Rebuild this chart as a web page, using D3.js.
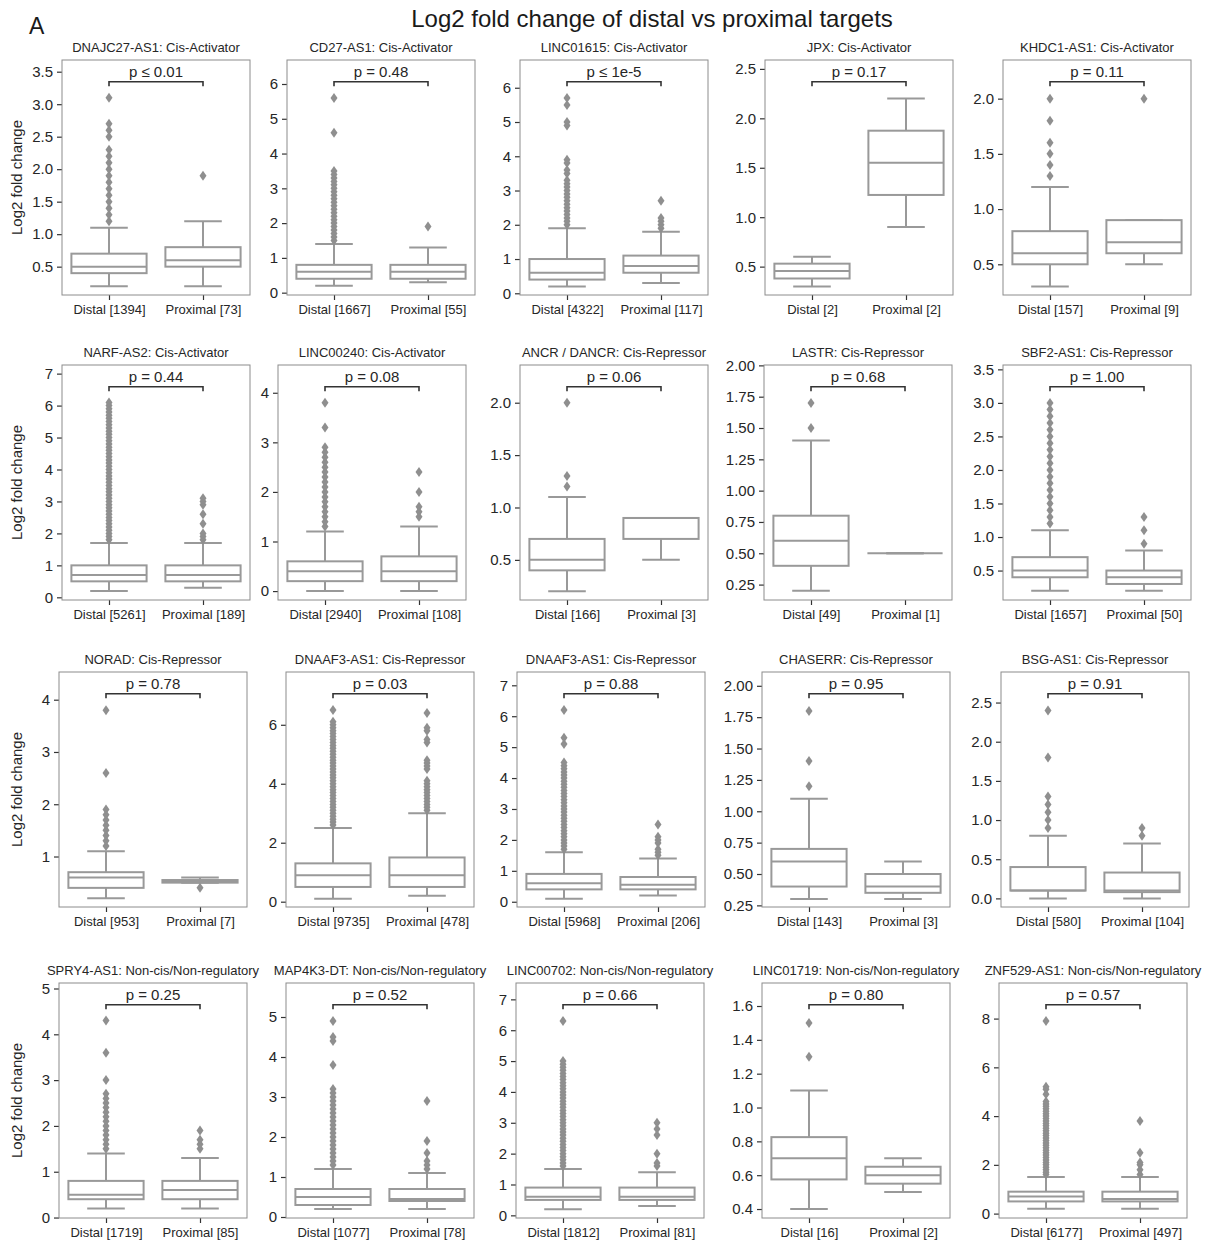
<!DOCTYPE html>
<html>
<head>
<meta charset="utf-8">
<script src="https://cdn.jsdelivr.net/npm/d3@7"></script>
<style>
  body { margin: 0; background: #fff; }
  svg text { font-family: "Liberation Sans", Arial, Helvetica, sans-serif; }
</style>
</head>
<body>
<div id="chart"></div>
<script>
'use strict';

const width = 1209;
const height = 1246;

// panel titles, sample sizes and p-values
const titles = [
  "DNAJC27-AS1: Cis-Activator", "CD27-AS1: Cis-Activator", "LINC01615: Cis-Activator", "JPX: Cis-Activator", "KHDC1-AS1: Cis-Activator",
  "NARF-AS2: Cis-Activator", "LINC00240: Cis-Activator", "ANCR / DANCR: Cis-Repressor", "LASTR: Cis-Repressor", "SBF2-AS1: Cis-Repressor",
  "NORAD: Cis-Repressor", "DNAAF3-AS1: Cis-Repressor", "DNAAF3-AS1: Cis-Repressor", "CHASERR: Cis-Repressor", "BSG-AS1: Cis-Repressor",
  "SPRY4-AS1: Non-cis/Non-regulatory", "MAP4K3-DT: Non-cis/Non-regulatory", "LINC00702: Non-cis/Non-regulatory", "LINC01719: Non-cis/Non-regulatory", "ZNF529-AS1: Non-cis/Non-regulatory"
];
const distalN = [1394, 1667, 4322, 2, 157, 5261, 2940, 166, 49, 1657, 953, 9735, 5968, 143, 580, 1719, 1077, 1812, 16, 6177];
const proximalN = [73, 55, 117, 2, 9, 189, 108, 3, 1, 50, 7, 478, 206, 3, 104, 85, 78, 81, 2, 497];
const pLabels = [
  "p \u2264 0.01", "p = 0.48", "p \u2264 1e-5", "p = 0.17", "p = 0.11",
  "p = 0.44", "p = 0.08", "p = 0.06", "p = 0.68", "p = 1.00",
  "p = 0.78", "p = 0.03", "p = 0.88", "p = 0.95", "p = 0.91",
  "p = 0.25", "p = 0.52", "p = 0.66", "p = 0.80", "p = 0.57"
];

// y axis limits and tick labels
const yDomains = [
  [0.064, 3.68], [-0.067, 6.69], [-0.05, 6.81], [0.213, 2.59], [0.222, 2.35],
  [-0.084, 7.27], [-0.18, 4.56], [0.117, 2.36], [0.127, 2.003], [0.061, 3.565],
  [0.034, 4.53], [-0.18, 7.79], [-0.17, 7.43], [0.237, 2.11], [-0.11, 2.89],
  [-0.01, 5.12], [-0.025, 5.85], [-0.086, 7.53], [0.347, 1.736], [-0.18, 9.46]
];
const yTickLabels = [
  ["0.5", "1.0", "1.5", "2.0", "2.5", "3.0", "3.5"],
  ["0", "1", "2", "3", "4", "5", "6"],
  ["0", "1", "2", "3", "4", "5", "6"],
  ["0.5", "1.0", "1.5", "2.0", "2.5"],
  ["0.5", "1.0", "1.5", "2.0"],
  ["0", "1", "2", "3", "4", "5", "6", "7"],
  ["0", "1", "2", "3", "4"],
  ["0.5", "1.0", "1.5", "2.0"],
  ["0.25", "0.50", "0.75", "1.00", "1.25", "1.50", "1.75", "2.00"],
  ["0.5", "1.0", "1.5", "2.0", "2.5", "3.0", "3.5"],
  ["1", "2", "3", "4"],
  ["0", "2", "4", "6"],
  ["0", "1", "2", "3", "4", "5", "6", "7"],
  ["0.25", "0.50", "0.75", "1.00", "1.25", "1.50", "1.75", "2.00"],
  ["0.0", "0.5", "1.0", "1.5", "2.0", "2.5"],
  ["0", "1", "2", "3", "4", "5"],
  ["0", "1", "2", "3", "4", "5"],
  ["0", "1", "2", "3", "4", "5", "6", "7"],
  ["0.4", "0.6", "0.8", "1.0", "1.2", "1.4", "1.6"],
  ["0", "2", "4", "6", "8"]
];

// box stats: [lower whisker, q1, median, q3, upper whisker]
const distalStats = [
  [0.2, 0.4, 0.5, 0.7, 1.1], [0.2, 0.4, 0.6, 0.8, 1.4], [0.2, 0.4, 0.6, 1.0, 1.9], [0.3, 0.38, 0.455, 0.53, 0.6], [0.3, 0.5, 0.6, 0.8, 1.2],
  [0.2, 0.5, 0.7, 1.0, 1.7], [0.0, 0.2, 0.4, 0.6, 1.2], [0.2, 0.4, 0.5, 0.7, 1.1], [0.2, 0.4, 0.6, 0.8, 1.4], [0.2, 0.4, 0.5, 0.7, 1.1],
  [0.2, 0.4, 0.6, 0.7, 1.1], [0.1, 0.5, 0.9, 1.3, 2.5], [0.1, 0.4, 0.6, 0.9, 1.6], [0.3, 0.4, 0.6, 0.7, 1.1], [0.0, 0.1, 0.1, 0.4, 0.8],
  [0.2, 0.4, 0.5, 0.8, 1.4], [0.2, 0.3, 0.5, 0.7, 1.2], [0.2, 0.5, 0.6, 0.9, 1.5], [0.4, 0.575, 0.7, 0.825, 1.1], [0.2, 0.5, 0.7, 0.9, 1.5]
];
const proximalStats = [
  [0.2, 0.5, 0.6, 0.8, 1.2], [0.3, 0.4, 0.6, 0.8, 1.3], [0.3, 0.6, 0.8, 1.1, 1.8], [0.9, 1.225, 1.55, 1.875, 2.2], [0.5, 0.6, 0.7, 0.9, 0.9],
  [0.3, 0.5, 0.7, 1.0, 1.7], [0.0, 0.2, 0.4, 0.7, 1.3], [0.5, 0.7, 0.9, 0.9, 0.9], [0.5, 0.5, 0.5, 0.5, 0.5], [0.2, 0.3, 0.4, 0.5, 0.8],
  [0.5, 0.5, 0.52, 0.55, 0.6], [0.2, 0.5, 0.9, 1.5, 3.0], [0.2, 0.4, 0.55, 0.8, 1.4], [0.3, 0.35, 0.4, 0.5, 0.6], [0.0, 0.08, 0.1, 0.33, 0.7],
  [0.2, 0.4, 0.6, 0.8, 1.3], [0.2, 0.4, 0.45, 0.7, 1.1], [0.3, 0.5, 0.6, 0.9, 1.4], [0.5, 0.55, 0.6, 0.65, 0.7], [0.2, 0.5, 0.6, 0.9, 1.5]
];

// outliers
const distalOutliers = [
  [1.2, 1.3, 1.4, 1.5, 1.6, 1.7, 1.8, 1.9, 2.0, 2.1, 2.2, 2.3, 2.5, 2.6, 2.7, 3.1],
  [1.5, 1.6, 1.7, 1.8, 1.9, 2.0, 2.1, 2.2, 2.3, 2.4, 2.5, 2.6, 2.7, 2.8, 2.9, 3.0, 3.1, 3.2, 3.3, 3.4, 3.5, 4.6, 5.6],
  [2.0, 2.1, 2.2, 2.3, 2.4, 2.5, 2.6, 2.7, 2.8, 2.9, 3.0, 3.1, 3.2, 3.3, 3.5, 3.6, 3.8, 3.9, 4.9, 5.0, 5.5, 5.7],
  [],
  [1.3, 1.4, 1.5, 1.6, 1.8, 2.0],
  [1.8, 1.9, 2.0, 2.1, 2.2, 2.3, 2.4, 2.5, 2.6, 2.7, 2.8, 2.9, 3.0, 3.1, 3.2, 3.3, 3.4, 3.5, 3.6, 3.7, 3.8, 3.9, 4.0, 4.1, 4.2, 4.3,
   4.4, 4.5, 4.6, 4.7, 4.8, 4.9, 5.0, 5.1, 5.2, 5.3, 5.4, 5.5, 5.6, 5.7, 5.8, 5.9, 6.0, 6.1],
  [1.3, 1.4, 1.5, 1.6, 1.7, 1.8, 1.9, 2.0, 2.1, 2.2, 2.3, 2.4, 2.5, 2.6, 2.7, 2.8, 2.9, 3.3, 3.8],
  [1.2, 1.3, 2.0],
  [1.5, 1.7],
  [1.2, 1.3, 1.4, 1.5, 1.6, 1.7, 1.8, 1.9, 2.0, 2.1, 2.2, 2.3, 2.4, 2.5, 2.6, 2.7, 2.8, 2.9, 3.0],
  [1.2, 1.3, 1.4, 1.5, 1.6, 1.7, 1.8, 1.9, 2.6, 3.8],
  [2.6, 2.7, 2.8, 2.9, 3.0, 3.1, 3.2, 3.3, 3.4, 3.5, 3.6, 3.7, 3.8, 3.9, 4.0, 4.1, 4.2, 4.3, 4.4, 4.5, 4.6, 4.7, 4.8, 4.9,
   5.0, 5.1, 5.2, 5.3, 5.4, 5.5, 5.6, 5.7, 5.8, 5.9, 6.0, 6.1, 6.5],
  [1.7, 1.8, 1.9, 2.0, 2.1, 2.2, 2.3, 2.4, 2.5, 2.6, 2.7, 2.8, 2.9, 3.0, 3.1, 3.2, 3.3, 3.4, 3.5, 3.6, 3.7, 3.8, 3.9, 4.0,
   4.1, 4.2, 4.3, 4.4, 4.5, 5.1, 5.3, 6.2],
  [1.2, 1.4, 1.8],
  [0.9, 1.0, 1.1, 1.2, 1.3, 1.8, 2.4],
  [1.5, 1.6, 1.7, 1.8, 1.9, 2.0, 2.1, 2.2, 2.3, 2.4, 2.5, 2.6, 2.7, 3.0, 3.6, 4.3],
  [1.3, 1.4, 1.5, 1.6, 1.7, 1.8, 1.9, 2.0, 2.1, 2.2, 2.3, 2.4, 2.5, 2.6, 2.7, 2.8, 2.9, 3.0, 3.1, 3.2, 3.8, 4.4, 4.5, 4.9],
  [1.6, 1.7, 1.8, 1.9, 2.0, 2.1, 2.2, 2.3, 2.4, 2.5, 2.6, 2.7, 2.8, 2.9, 3.0, 3.1, 3.2, 3.3, 3.4, 3.5, 3.6, 3.7, 3.8,
   3.9, 4.0, 4.1, 4.2, 4.3, 4.4, 4.5, 4.6, 4.7, 4.8, 4.9, 5.0, 6.3],
  [1.3, 1.5],
  [1.6, 1.7, 1.8, 1.9, 2.0, 2.1, 2.2, 2.3, 2.4, 2.5, 2.6, 2.7, 2.8, 2.9, 3.0, 3.1, 3.2, 3.3, 3.4, 3.5, 3.6, 3.7, 3.8,
   3.9, 4.0, 4.1, 4.2, 4.3, 4.4, 4.5, 4.6, 4.9, 5.1, 5.2, 7.9]
];
const proximalOutliers = [
  [1.9], [1.9], [1.9, 2.0, 2.1, 2.2, 2.7], [], [2.0],
  [1.8, 1.9, 2.0, 2.3, 2.6, 2.9, 3.0, 3.1], [1.5, 1.6, 1.7, 2.0, 2.4], [], [], [0.9, 1.1, 1.3],
  [0.4], [3.1, 3.2, 3.3, 3.4, 3.5, 3.6, 3.7, 3.8, 3.9, 4.0, 4.1, 4.5, 4.6, 4.7, 4.8, 5.4, 5.5, 5.8, 5.9, 6.4],
  [1.5, 1.6, 1.7, 1.9, 2.0, 2.1, 2.5], [], [0.8, 0.9],
  [1.5, 1.6, 1.7, 1.9], [1.2, 1.3, 1.4, 1.6, 1.9, 2.9], [1.6, 1.7, 2.0, 2.6, 2.8, 3.0], [], [1.6, 1.8, 2.0, 2.1, 2.5, 3.8]
];

// layout
const rowTop = [60, 365, 672, 983];
const colLeft = [
  [62, 287, 520, 765, 1003],
  [62, 278, 520, 764, 1003],
  [59, 286, 517, 762, 1001],
  [59, 286, 516, 762, 999]
];
const pw = 188;
const ph = 235;

const boxColor = "#999999";
const textColor = "#262626";

const svg = d3.select("#chart").append("svg")
  .attr("width", width)
  .attr("height", height);

svg.append("text")
  .attr("x", 652).attr("y", 27)
  .attr("text-anchor", "middle")
  .style("font-size", "24px")
  .attr("fill", "#1a1a1a")
  .text("Log2 fold change of distal vs proximal targets");

svg.append("text")
  .attr("x", 29).attr("y", 34)
  .style("font-size", "23px")
  .attr("fill", "#1a1a1a")
  .text("A");

const diamond = "M0,-5L3.5,0L0,5L-3.5,0Z";

titles.forEach((title, i) => {
  const r = Math.floor(i / 5), c = i % 5;
  const x0 = colLeft[r][c], y0 = rowTop[r];
  const g = svg.append("g").attr("transform", `translate(${x0},${y0})`);

  const x = d3.scalePoint().domain([0, 1]).range([0, pw]).padding(0.5);
  const y = d3.scaleLinear().domain(yDomains[i]).range([ph, 0]);
  const bw = (pw / 2) * 0.8;

  // y axis
  const labels = yTickLabels[i];
  const yAxis = g.append("g")
    .call(d3.axisLeft(y)
      .tickValues(labels.map(Number))
      .tickFormat((d, k) => labels[k])
      .tickSize(5).tickPadding(4));
  yAxis.select(".domain").remove();
  yAxis.selectAll(".tick line").attr("stroke", "#333").attr("stroke-width", 1.2);
  yAxis.selectAll(".tick text").attr("fill", textColor).style("font-size", "15px")
    .style("font-family", "'Liberation Sans', Arial, sans-serif");

  // x axis
  const xNames = [`Distal [${distalN[i]}]`, `Proximal [${proximalN[i]}]`];
  const xAxis = g.append("g")
    .attr("transform", `translate(0,${ph})`)
    .call(d3.axisBottom(x).tickFormat(d => xNames[d]).tickSize(5).tickPadding(5));
  xAxis.select(".domain").remove();
  xAxis.selectAll(".tick line").attr("stroke", "#333").attr("stroke-width", 1.2);
  xAxis.selectAll(".tick text").attr("fill", textColor).style("font-size", "13px")
    .style("font-family", "'Liberation Sans', Arial, sans-serif");

  // frame
  g.append("rect")
    .attr("width", pw).attr("height", ph)
    .attr("fill", "none")
    .attr("stroke", "#8c8c8c")
    .attr("stroke-width", 1);

  // boxes
  [[distalStats[i], distalOutliers[i]], [proximalStats[i], proximalOutliers[i]]].forEach(([s, outl], k) => {
    const cx = x(k);
    const bg = g.append("g")
      .attr("stroke", boxColor)
      .attr("stroke-width", 2)
      .attr("fill", "none");
    // whiskers
    bg.append("line").attr("x1", cx).attr("x2", cx).attr("y1", y(s[0])).attr("y2", y(s[1]));
    bg.append("line").attr("x1", cx).attr("x2", cx).attr("y1", y(s[3])).attr("y2", y(s[4]));
    // caps
    bg.append("line").attr("x1", cx - bw / 4).attr("x2", cx + bw / 4).attr("y1", y(s[0])).attr("y2", y(s[0]));
    bg.append("line").attr("x1", cx - bw / 4).attr("x2", cx + bw / 4).attr("y1", y(s[4])).attr("y2", y(s[4]));
    // box
    bg.append("rect")
      .attr("x", cx - bw / 2).attr("width", bw)
      .attr("y", y(s[3])).attr("height", y(s[1]) - y(s[3]))
      .attr("fill", "#fff");
    // median
    bg.append("line").attr("x1", cx - bw / 2).attr("x2", cx + bw / 2).attr("y1", y(s[2])).attr("y2", y(s[2]));

    g.append("g").selectAll("path")
      .data(outl)
      .enter().append("path")
      .attr("d", diamond)
      .attr("transform", d => `translate(${cx},${y(d)})`)
      .attr("fill", "#8f8f8f");
  });

  // significance bracket
  const yb = 21.7;
  g.append("path")
    .attr("d", `M${x(0)},${yb + 4.5}V${yb}H${x(1)}V${yb + 4.5}`)
    .attr("fill", "none")
    .attr("stroke", "#333")
    .attr("stroke-width", 1.6);
  g.append("text")
    .attr("x", (x(0) + x(1)) / 2).attr("y", yb - 4.5)
    .attr("text-anchor", "middle")
    .style("font-size", "15px")
    .attr("fill", textColor)
    .text(pLabels[i]);

  // title
  g.append("text")
    .attr("x", pw / 2).attr("y", -8)
    .attr("text-anchor", "middle")
    .style("font-size", "13px")
    .attr("fill", textColor)
    .text(title);

  if (c === 0) {
    svg.append("text")
      .attr("transform", `translate(22,${y0 + ph / 2}) rotate(-90)`)
      .attr("text-anchor", "middle")
      .style("font-size", "15px")
      .attr("fill", textColor)
      .text("Log2 fold change");
  }
});
</script>
</body>
</html>
